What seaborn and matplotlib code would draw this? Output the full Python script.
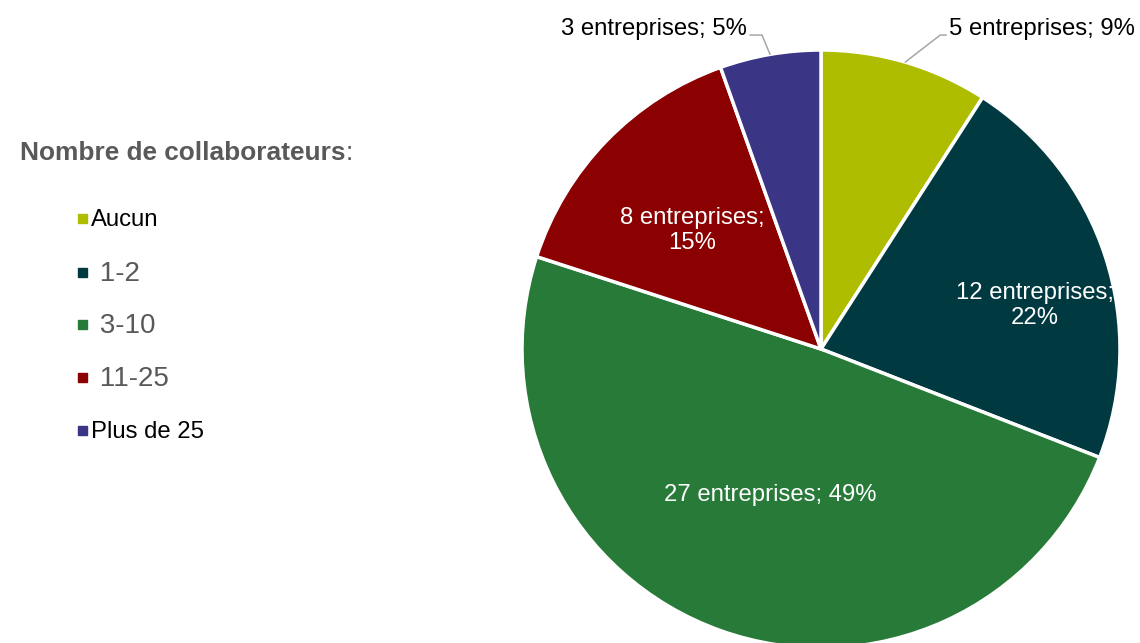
import numpy as np
import matplotlib.pyplot as plt
import seaborn as sns
from matplotlib.patches import Rectangle

sns.set_theme(style="white")
plt.rcParams["font.family"] = ["Liberation Sans", "DejaVu Sans"]

# data
categories = ["Aucun", "1-2", "3-10", "11-25", "Plus de 25"]
counts = [5, 12, 27, 8, 3]
percents = [9, 22, 49, 15, 5]
colors = ["#AFBD00", "#003A40", "#287A38", "#8B0000", "#3A3585"]
two_line = [False, True, False, True, False]
inside = [False, True, True, True, False]

W, H = 1140, 643
cx, cy, R = 821, H - 349, 299

fig = plt.figure(figsize=(W / 100, H / 100), dpi=100)
ax = fig.add_axes([0, 0, 1, 1])
palette = sns.color_palette(colors)

wedges, _ = ax.pie(
    counts, colors=palette, startangle=90, counterclock=False,
    center=(cx, cy), radius=R,
    wedgeprops=dict(edgecolor="white", linewidth=2.5),
)
ax.set_xlim(0, W)
ax.set_ylim(0, H)
ax.set_aspect("equal")
ax.axis("off")

label_fs = 17.2
# radial position (fraction of R) and small angle nudge for inside labels
label_r = [1.0, 0.73, 0.51, 0.59, 1.0]
label_nudge = [0, -6, 0, 1, 0]

for i, w in enumerate(wedges):
    sep = "\n" if two_line[i] else " "
    txt = f"{counts[i]} entreprises;{sep}{percents[i]}%"
    mid = np.deg2rad((w.theta1 + w.theta2) / 2 + label_nudge[i])
    if inside[i]:
        x = cx + label_r[i] * R * np.cos(mid)
        y = cy + label_r[i] * R * np.sin(mid)
        ax.text(x, y - 2, txt, ha="center", va="center", color="white",
                fontsize=label_fs, linespacing=1.15)
    else:
        # leader line from the wedge edge up to the label row
        sx, sy = cx + R * np.cos(mid), cy + R * np.sin(mid)
        y_line = cy + 1.05 * R
        right = np.cos(mid) > 0
        ex = sx + (35 if right else -8)
        hx = ex + (6 if right else -12)
        ax.plot([sx, ex, hx], [sy, y_line, y_line], color="#A6A6A6", lw=1.1)
        ax.text(hx + (3 if right else -3), y_line + 6, txt,
                ha="left" if right else "right", va="center",
                color="black", fontsize=label_fs)

# legend drawn by hand to keep the mixed font sizes of the original
title = ax.text(20, H - 153, "Nombre de collaborateurs", fontsize=18.9,
                fontweight="bold", color="#595959", ha="left", va="center")
fig.canvas.draw()
bb = title.get_window_extent()
ax.text(bb.x1, H - 153, ":", fontsize=18.9, color="#595959",
        ha="left", va="center")

legend_y = [218, 272, 324, 377, 430]
big = [False, True, True, True, False]
for i, cat in enumerate(categories):
    y = H - legend_y[i]
    ax.add_patch(Rectangle((78, y - 4.5), 9, 9, color=palette[i]))
    if big[i]:
        ax.text(92, y - 2, " " + cat, fontsize=20, color="#595959",
                ha="left", va="center")
    else:
        ax.text(91, y - 2, cat, fontsize=17.2, color="black",
                ha="left", va="center")

fig.savefig("out.png", dpi=100)
plt.close(fig)
